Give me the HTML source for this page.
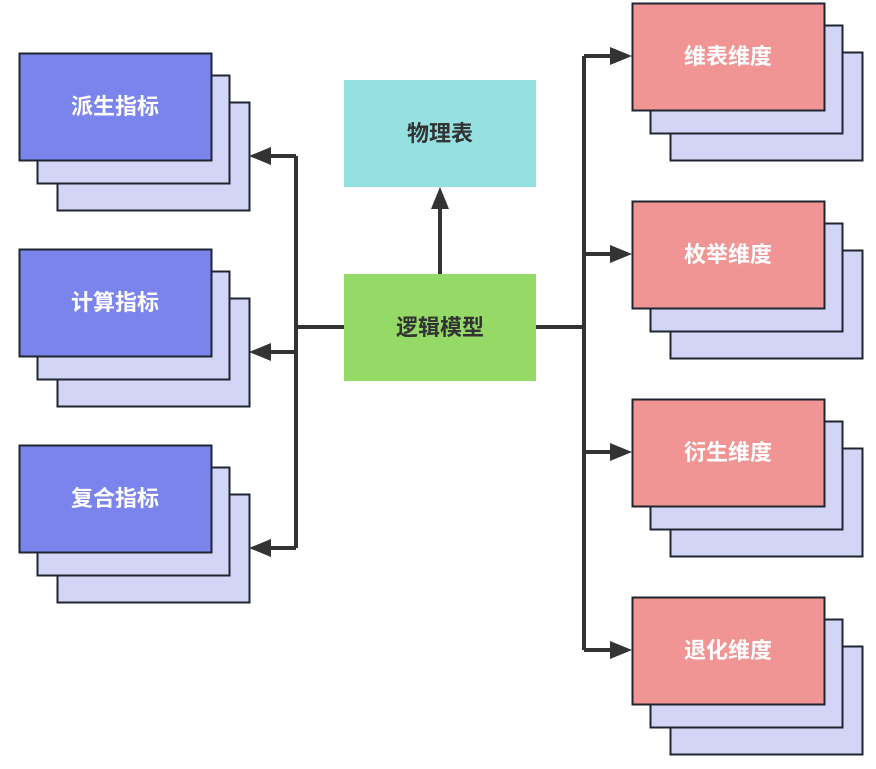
<!DOCTYPE html>
<html><head><meta charset="utf-8"><style>
body{margin:0;width:876px;height:764px;background:#fff;overflow:hidden}
</style></head><body>
<svg width="876" height="764" xmlns="http://www.w3.org/2000/svg" style="font-family:'Liberation Sans','Noto Sans CJK SC',sans-serif;font-weight:bold;font-size:22px">
<defs>
<g id="L"><rect x="57.5" y="49.5" width="192" height="108" fill="#d3d5f6" stroke="#1f2630" stroke-width="2"/><rect x="37.5" y="22.5" width="192" height="108" fill="#d3d5f6" stroke="#1f2630" stroke-width="2"/><rect x="19.5" y="0.5" width="192" height="107" fill="#7a84ec" stroke="#1f2630" stroke-width="2"/></g>
<g id="R"><rect x="670.5" y="49.5" width="192" height="108" fill="#d3d5f6" stroke="#1f2630" stroke-width="2"/><rect x="650.5" y="22.5" width="192" height="108" fill="#d3d5f6" stroke="#1f2630" stroke-width="2"/><rect x="632.5" y="0.5" width="192" height="107" fill="#f09593" stroke="#1f2630" stroke-width="2"/></g>
</defs>
<use href="#L" y="53"/><use href="#L" y="249"/><use href="#L" y="445"/>
<use href="#R" y="3"/><use href="#R" y="201"/><use href="#R" y="399"/><use href="#R" y="597"/>
<rect x="344" y="80" width="192" height="107" fill="#95e0e0"/>
<rect x="344" y="274" width="192" height="107" fill="#95d967"/>
<g stroke="#333" stroke-width="4" fill="none">
<path d="M344 327H296M296 156V548M296 156H268M296 352H268M296 548H268"/>
<path d="M536 327H584M584 56V650M584 56H614M584 254H614M584 452H614M584 650H614"/>
<path d="M440 274V205"/>
</g>
<g fill="#333">
<path d="M249 156l22-9v18zM249 352l22-9v18zM249 548l22-9v18z"/>
<path d="M632 56l-22-9v18zM632 254l-22-9v18zM632 452l-22-9v18zM632 650l-22-9v18z"/>
<path d="M440 187l-9 22h18z"/>
</g>
<g fill="#fff" text-anchor="middle">
<text x="115" y="114">派生指标</text><text x="115" y="310">计算指标</text><text x="115" y="506">复合指标</text>
<text x="728" y="64">维表维度</text><text x="728" y="262">枚举维度</text><text x="728" y="460">衍生维度</text><text x="728" y="658">退化维度</text>
</g>
<g fill="#333" text-anchor="middle">
<text x="440" y="141">物理表</text><text x="440" y="335">逻辑模型</text>
</g>
</svg>
</body></html>
